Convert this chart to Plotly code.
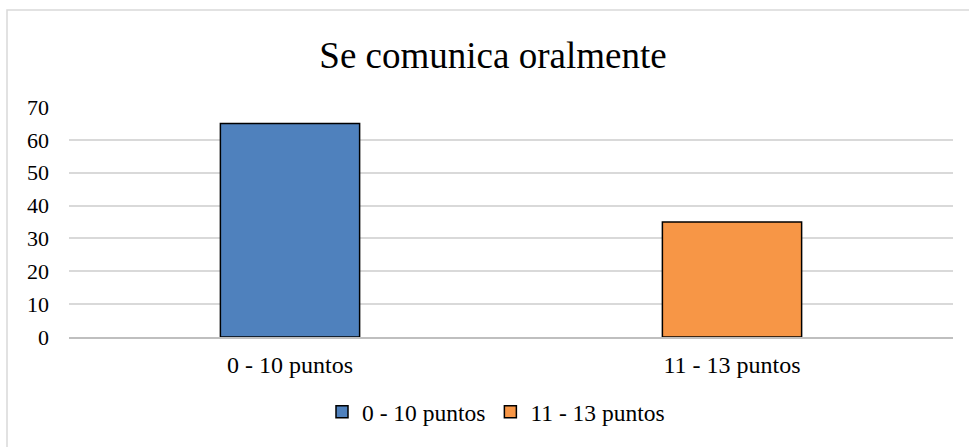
import plotly.graph_objects as go

categories = ["0 - 10 puntos", "11 - 13 puntos"]
values = [65, 35]
colors = ["#4F81BD", "#F79646"]
y_ticks = [0, 10, 20, 30, 40, 50, 60, 70]
title_text = "Se comunica oralmente"

W, H = 969, 447
L, R, T, B = 69, 16, 107, 110
pw, ph = W - L - R, H - T - B

fig = go.Figure()
for cat, val, col in zip(categories, values, colors):
    fig.add_trace(go.Bar(
        x=[cat], y=[val], name=cat,
        marker=dict(color=col, line=dict(color="#000000", width=1.5)),
        width=0.315,
    ))

font_family = "Liberation Serif, Times New Roman, serif"
fig.update_layout(
    width=W, height=H,
    margin=dict(l=L, r=R, t=T, b=B),
    paper_bgcolor="white", plot_bgcolor="white",
    barmode="overlay",
    font=dict(family=font_family, color="#000000", size=22),
    title=dict(text=title_text, x=493 / W, xanchor="center", y=1 - 55 / H,
               yanchor="middle", yref="container",
               font=dict(family=font_family, size=37, color="#000000")),
    showlegend=True,
    legend=dict(orientation="h", x=(322 - L) / pw, xanchor="left", y=-(412 - 337) / ph,
                yanchor="middle", font=dict(size=23.5), itemwidth=30,
                traceorder="normal"),
    xaxis=dict(showgrid=False, showline=True, linecolor="#BFBFBF", linewidth=1.5,
               ticks="", tickfont=dict(size=24), ticklabelstandoff=5),
    yaxis=dict(range=[0, 70], tickvals=y_ticks, showgrid=True, gridcolor="#D9D9D9",
               gridwidth=1.5, zeroline=False, showline=False, ticks="",
               tickfont=dict(size=22), ticklabelstandoff=19),
    shapes=[dict(type="rect", xref="paper", yref="paper",
                 x0=(7 - L) / pw, x1=1.2, y0=-0.8, y1=(H - B - 10) / ph,
                 line=dict(color="#D9D9D9", width=1.5), fillcolor="rgba(0,0,0,0)",
                 layer="below")],
)

fig.write_html("out.html", config={"displayModeBar": False},
               post_script="document.body.style.margin='0px';")
